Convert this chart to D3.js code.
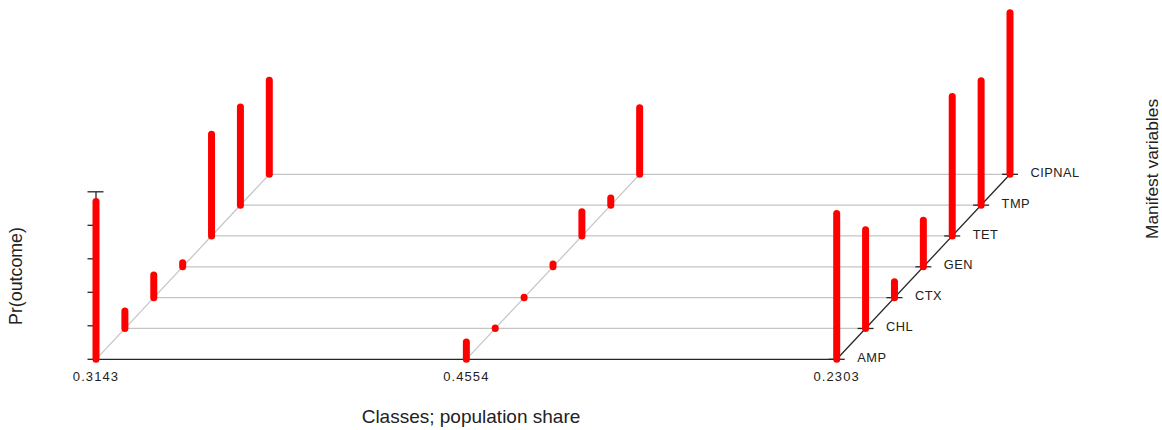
<!DOCTYPE html>
<html>
<head>
<meta charset="utf-8">
<script src="https://cdn.jsdelivr.net/npm/d3@7"></script>
<style>
  html, body { margin: 0; padding: 0; background: #fff; }
  svg { display: block; font-family: "Liberation Sans", Arial, sans-serif; }
</style>
</head>
<body>
<svg id="chart" width="1162" height="430"></svg>
<script>
// Latent classes (population share) along the front axis
const classShares = ["0.3143", "0.4554", "0.2303"];
// Manifest variables along the depth axis, front to back
const variables = ["AMP", "CHL", "CTX", "GEN", "TET", "TMP", "CIPNAL"];
// Pr(outcome) for each class, in the order of `variables`
const class1 = [0.942, 0.104, 0.135, 0.024, 0.608, 0.586, 0.562];
const class2 = [0.104, 0.003, 0.003, 0.016, 0.145, 0.043, 0.397];
const class3 = [0.870, 0.590, 0.095, 0.278, 0.833, 0.743, 0.964];
const zTicks = [0, 0.2, 0.4, 0.6, 0.8, 1.0];

const probs = [class1, class2, class3];

const svg = d3.select("#chart");

// Oblique projection: class -> x, variable -> depth offset, probability -> height
const baseY = 359.3;
const xClass = d3.scalePoint().domain(d3.range(classShares.length)).range([96, 836.7]);
const depthX = d3.scaleLinear().domain([0, variables.length - 1]).range([0, 173.3]);
const depthY = d3.scaleLinear().domain([0, variables.length - 1]).range([0, 185]);
const zScale = d3.scaleLinear().domain([0, 1]).range([0, 167.5]);

const px = (c, v) => xClass(c) + depthX(v);
const py = (v, z) => baseY - depthY(v) - zScale(z);

const grey = "#c4c4c4";
const dark = "#262626";
const lastC = classShares.length - 1;
const lastV = variables.length - 1;

// Grid lines across classes at each depth level
svg.append("g").selectAll("line")
  .data(d3.range(1, variables.length))
  .join("line")
  .attr("x1", v => px(0, v)).attr("x2", v => px(lastC, v))
  .attr("y1", v => py(v, 0)).attr("y2", v => py(v, 0))
  .attr("stroke", grey).attr("stroke-width", 1.2);

// Depth guide lines for the first classes
svg.append("g").selectAll("line")
  .data(d3.range(0, lastC))
  .join("line")
  .attr("x1", c => px(c, 0)).attr("x2", c => px(c, lastV))
  .attr("y1", py(0, 0)).attr("y2", py(lastV, 0))
  .attr("stroke", grey).attr("stroke-width", 1.2);

// Front base line
svg.append("line")
  .attr("x1", px(0, 0)).attr("x2", px(lastC, 0))
  .attr("y1", py(0, 0)).attr("y2", py(0, 0))
  .attr("stroke", dark).attr("stroke-width", 1.3);

// Depth axis on the right with ticks
svg.append("line")
  .attr("x1", px(lastC, 0)).attr("x2", px(lastC, lastV))
  .attr("y1", py(0, 0)).attr("y2", py(lastV, 0))
  .attr("stroke", dark).attr("stroke-width", 1.3);

svg.append("g").selectAll("line")
  .data(d3.range(variables.length))
  .join("line")
  .attr("x1", v => px(lastC, v) - 8).attr("x2", v => px(lastC, v) + 8)
  .attr("y1", v => py(v, 0)).attr("y2", v => py(v, 0))
  .attr("stroke", dark).attr("stroke-width", 1.3);

svg.append("g").selectAll("text")
  .data(variables)
  .join("text")
  .attr("x", (d, v) => px(lastC, v) + 20.5)
  .attr("y", (d, v) => py(v, 0) + 2.6)
  .attr("font-size", 12.8)
  .attr("letter-spacing", 0.5)
  .attr("fill", "#222")
  .text(d => d);

// Vertical probability axis at the front-left corner
const zx = px(0, 0);
svg.append("line")
  .attr("x1", zx).attr("x2", zx)
  .attr("y1", py(0, 0)).attr("y2", py(0, 1))
  .attr("stroke", dark).attr("stroke-width", 1.3);

svg.append("g").selectAll("line")
  .data(zTicks)
  .join("line")
  .attr("x1", zx - 8.5)
  .attr("x2", d => d === 1 ? zx + 7.5 : zx)
  .attr("y1", d => py(0, d)).attr("y2", d => py(0, d))
  .attr("stroke", dark).attr("stroke-width", 1.3);

// Class labels under the base line
svg.append("g").selectAll("text")
  .data(classShares)
  .join("text")
  .attr("x", (d, c) => xClass(c))
  .attr("y", 381)
  .attr("text-anchor", "middle")
  .attr("font-size", 13)
  .attr("letter-spacing", 1.1)
  .attr("fill", "#222")
  .text(d => d);

// Probability bars
const bars = [];
probs.forEach((vals, c) => vals.forEach((p, v) => bars.push({ c, v, p })));

svg.append("g").selectAll("line")
  .data(bars)
  .join("line")
  .attr("x1", d => px(d.c, d.v)).attr("x2", d => px(d.c, d.v))
  .attr("y1", d => py(d.v, 0)).attr("y2", d => py(d.v, d.p))
  .attr("stroke", "#ff0000")
  .attr("stroke-width", 7)
  .attr("stroke-linecap", "round");

// Axis titles
svg.append("text")
  .attr("x", 471).attr("y", 423)
  .attr("text-anchor", "middle")
  .attr("font-size", 19)
  .attr("fill", "#222")
  .text("Classes; population share");

svg.append("text")
  .attr("transform", "translate(21.5,276) rotate(-90)")
  .attr("text-anchor", "middle")
  .attr("font-size", 17.8)
  .attr("fill", "#222")
  .text("Pr(outcome)");

svg.append("text")
  .attr("transform", "translate(1157.5,169) rotate(-90)")
  .attr("text-anchor", "middle")
  .attr("font-size", 17.4)
  .attr("fill", "#222")
  .text("Manifest variables");
</script>
</body>
</html>
